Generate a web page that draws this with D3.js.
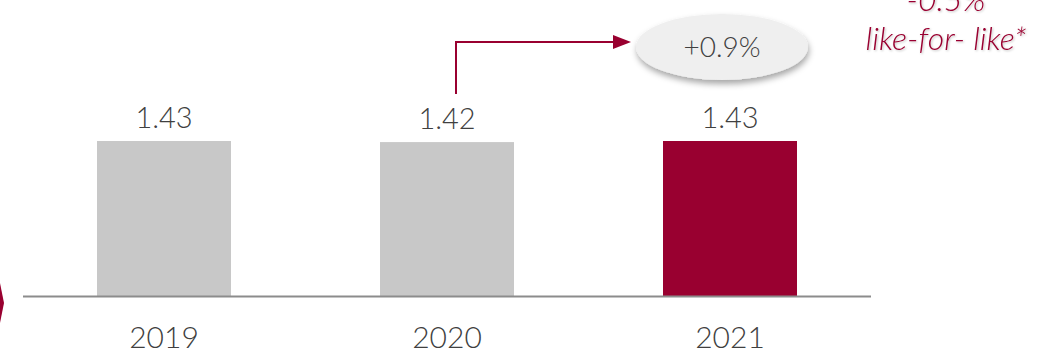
<!DOCTYPE html>
<html>
<head>
<meta charset="utf-8">
<script src="https://cdn.jsdelivr.net/npm/d3@7"></script>
<style>
  body { margin: 0; background: #fff; }
  svg { display: block; font-family: Lato, "Open Sans", sans-serif; }
</style>
</head>
<body>
<div id="chart"></div>
<script>
// data
const years = ["2019", "2020", "2021"];
const values = [1.43, 1.42, 1.43];
const barColors = ["#c8c8c8", "#c8c8c8", "#990030"];
const growthLabel = "+0.9%";
const lflLines = ["-0.5%", "like-for- like*"];

const W = 1045, H = 355;
const margin = {left: 23, right: 175, base: 296};

const svg = d3.select("#chart").append("svg")
  .attr("width", W)
  .attr("height", H);

const defs = svg.append("defs");
const shadow = defs.append("filter").attr("id", "shadow")
  .attr("x", "-20%").attr("y", "-30%").attr("width", "140%").attr("height", "170%");
shadow.append("feDropShadow")
  .attr("dx", 1).attr("dy", 4).attr("stdDeviation", 3)
  .attr("flood-color", "#000").attr("flood-opacity", 0.35);
const tshadow = defs.append("filter").attr("id", "tshadow");
tshadow.append("feDropShadow")
  .attr("dx", 1).attr("dy", 1).attr("stdDeviation", 0.8)
  .attr("flood-color", "#000").attr("flood-opacity", 0.25);

// X axis (band scale)
const x = d3.scaleBand()
  .domain(years)
  .range([22, 872])
  .paddingInner(0.5265)
  .paddingOuter(0.265);

// Y scale
const y = d3.scaleLinear()
  .domain([0, 1.43])
  .range([margin.base, 141]);

// Bars
svg.selectAll("rect.bar")
  .data(years)
  .enter()
  .append("rect")
    .attr("class", "bar")
    .attr("x", d => x(d))
    .attr("y", (d, i) => y(values[i]))
    .attr("width", x.bandwidth())
    .attr("height", (d, i) => margin.base - y(values[i]))
    .attr("fill", (d, i) => barColors[i]);

// baseline
svg.append("line")
  .attr("x1", margin.left).attr("x2", 871)
  .attr("y1", margin.base + 0.5).attr("y2", margin.base + 0.5)
  .attr("stroke", "#8c8c8c").attr("stroke-width", 2);

// value labels
svg.selectAll("text.val")
  .data(years)
  .enter()
  .append("text")
    .attr("class", "val")
    .attr("x", d => x(d) + x.bandwidth() / 2)
    .attr("y", (d, i) => y(values[i]) - 13)
    .attr("text-anchor", "middle")
    .attr("font-size", 29)
    .attr("font-weight", 300)
    .attr("fill", "#404040")
    .text((d, i) => values[i].toFixed(2));

// year labels
svg.selectAll("text.year")
  .data(years)
  .enter()
  .append("text")
    .attr("class", "year")
    .attr("x", d => x(d) + x.bandwidth() / 2)
    .attr("y", 348)
    .attr("text-anchor", "middle")
    .attr("font-size", 30)
    .attr("font-weight", 300)
    .attr("fill", "#404040")
    .text(d => d);

// growth arrow from 2020 to bubble
const ax = x("2020") + x.bandwidth() / 2 + 9;
const ay = 42;
svg.append("path")
  .attr("d", `M${ax},${y(values[1]) - 48} V${ay} H614`)
  .attr("fill", "none")
  .attr("stroke", "#990030")
  .attr("stroke-width", 2);
svg.append("path")
  .attr("d", `M613,${ay - 7} L631,${ay} L613,${ay + 7} Z`)
  .attr("fill", "#990030");

// bubble
const bx = x("2021") + x.bandwidth() / 2 - 8;
svg.append("ellipse")
  .attr("cx", bx).attr("cy", 47)
  .attr("rx", 86).attr("ry", 33)
  .attr("fill", "#efefef")
  .attr("filter", "url(#shadow)");
svg.append("text")
  .attr("x", bx).attr("y", 57)
  .attr("text-anchor", "middle")
  .attr("font-size", 28)
  .attr("font-weight", 300)
  .attr("fill", "#404040")
  .text(growthLabel);

// like-for-like note
svg.selectAll("text.lfl")
  .data(lflLines)
  .enter()
  .append("text")
    .attr("class", "lfl")
    .attr("x", 946)
    .attr("y", (d, i) => 11 + i * 39)
    .attr("text-anchor", "middle")
    .attr("font-size", 32)
    .attr("font-weight", 300)
    .attr("font-style", "italic")
    .attr("fill", "#990030")
    .attr("filter", "url(#tshadow)")
    .text(d => d);

// left chevron fragment
svg.append("path")
  .attr("d", "M0,283 L4,303 L0,323 Z")
  .attr("fill", "#990030");
</script>
</body>
</html>
